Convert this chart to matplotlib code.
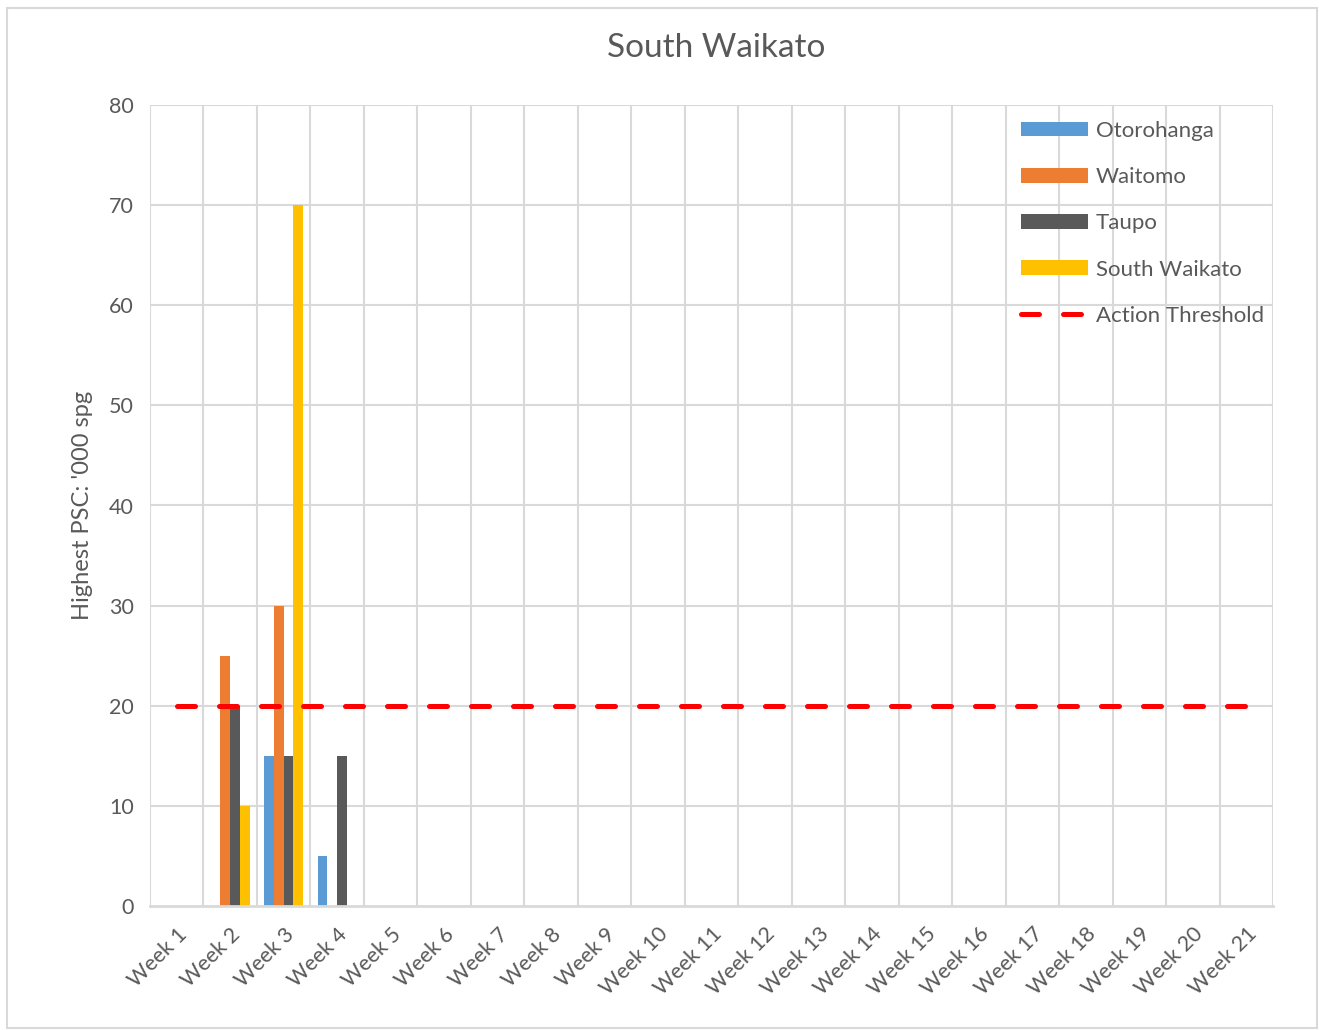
import matplotlib
matplotlib.use("Agg")
import matplotlib.pyplot as plt
import numpy as np
from matplotlib.patches import Rectangle

plt.rcParams['font.family'] = ['Lato', 'DejaVu Sans']

categories = [f"Week {i}" for i in range(1, 22)]
nan = np.nan
otorohanga = [nan, nan, 15, 5] + [nan] * 17
waitomo = [nan, 25, 30, nan] + [nan] * 17
taupo = [nan, 20, 15, 15] + [nan] * 17
south_waikato = [nan, 10, 70, nan] + [nan] * 17
threshold = [20] * 21

series = [
    ("Otorohanga", otorohanga, "#5B9BD5"),
    ("Waitomo", waitomo, "#ED7D31"),
    ("Taupo", taupo, "#595959"),
    ("South Waikato", south_waikato, "#FFC000"),
]

W, H = 1319, 1030
fig = plt.figure(figsize=(W / 100, H / 100), dpi=100)
ax = fig.add_axes([150 / W, (H - 906) / H, (1273 - 150) / W, (906 - 105) / H])

x = np.arange(len(categories))
bw = 1 / 5.5
handles = []
for i, (name, vals, col) in enumerate(series):
    h = ax.bar(x + (i - 1.5) * bw, vals, width=bw, color=col, label=name, zorder=3)
    handles.append(h)

ln, = ax.plot(x, threshold, color="#FF0000", lw=3.6, linestyle=(0, (3.6, 4.8)),
              dash_capstyle='round', label="Action Threshold", zorder=4)
handles.append(ln)

ax.set_xlim(-0.5, len(categories) - 0.5)
ax.set_ylim(0, 80)
ax.set_yticks(range(0, 81, 10))
ax.set_xticks(x)
ax.set_xticklabels(categories, rotation=45, ha='right', rotation_mode='anchor',
                   fontsize=15.5, color="#595959")
ax.tick_params(axis='y', labelsize=15.5, labelcolor="#595959", length=0, pad=11.5)
ax.tick_params(axis='x', length=0, pad=13)

# grid
for yv in range(10, 81, 10):
    ax.axhline(yv, color="#D9D9D9", lw=1.5, zorder=1)
for xv in np.arange(-0.5, len(categories) + 0.5, 1):
    ax.axvline(xv, color="#D9D9D9", lw=1.5, zorder=1)
for s in ['top', 'right', 'left']:
    ax.spines[s].set_visible(False)
ax.spines['bottom'].set_color("#D9D9D9")
ax.spines['bottom'].set_linewidth(2)
ax.spines['bottom'].set_zorder(5)

ax.set_ylabel("Highest PSC: '000 spg", fontsize=17, color="#595959")
ax.yaxis.set_label_coords((93 - 150) / (1273 - 150), 0.5)
fig.text(716 / W, 1 - 48 / H, "South Waikato", ha='center', va='center',
         fontsize=24, color="#595959")

leg = ax.legend(handles=handles, loc='upper right', bbox_to_anchor=(1.0, 1.0 - 7 / 801),
                frameon=False, fontsize=16, handlelength=3.0, handleheight=0.63,
                labelspacing=1.18, handletextpad=0.36, borderaxespad=0.0)
for t in leg.get_texts():
    t.set_color("#595959")

fig.patches.append(Rectangle((7 / W, 2 / H), (W - 9) / W, (H - 10) / H, transform=fig.transFigure,
                             fill=False, edgecolor="#D9D9D9", lw=1.5))

fig.savefig("out.png", dpi=100)
